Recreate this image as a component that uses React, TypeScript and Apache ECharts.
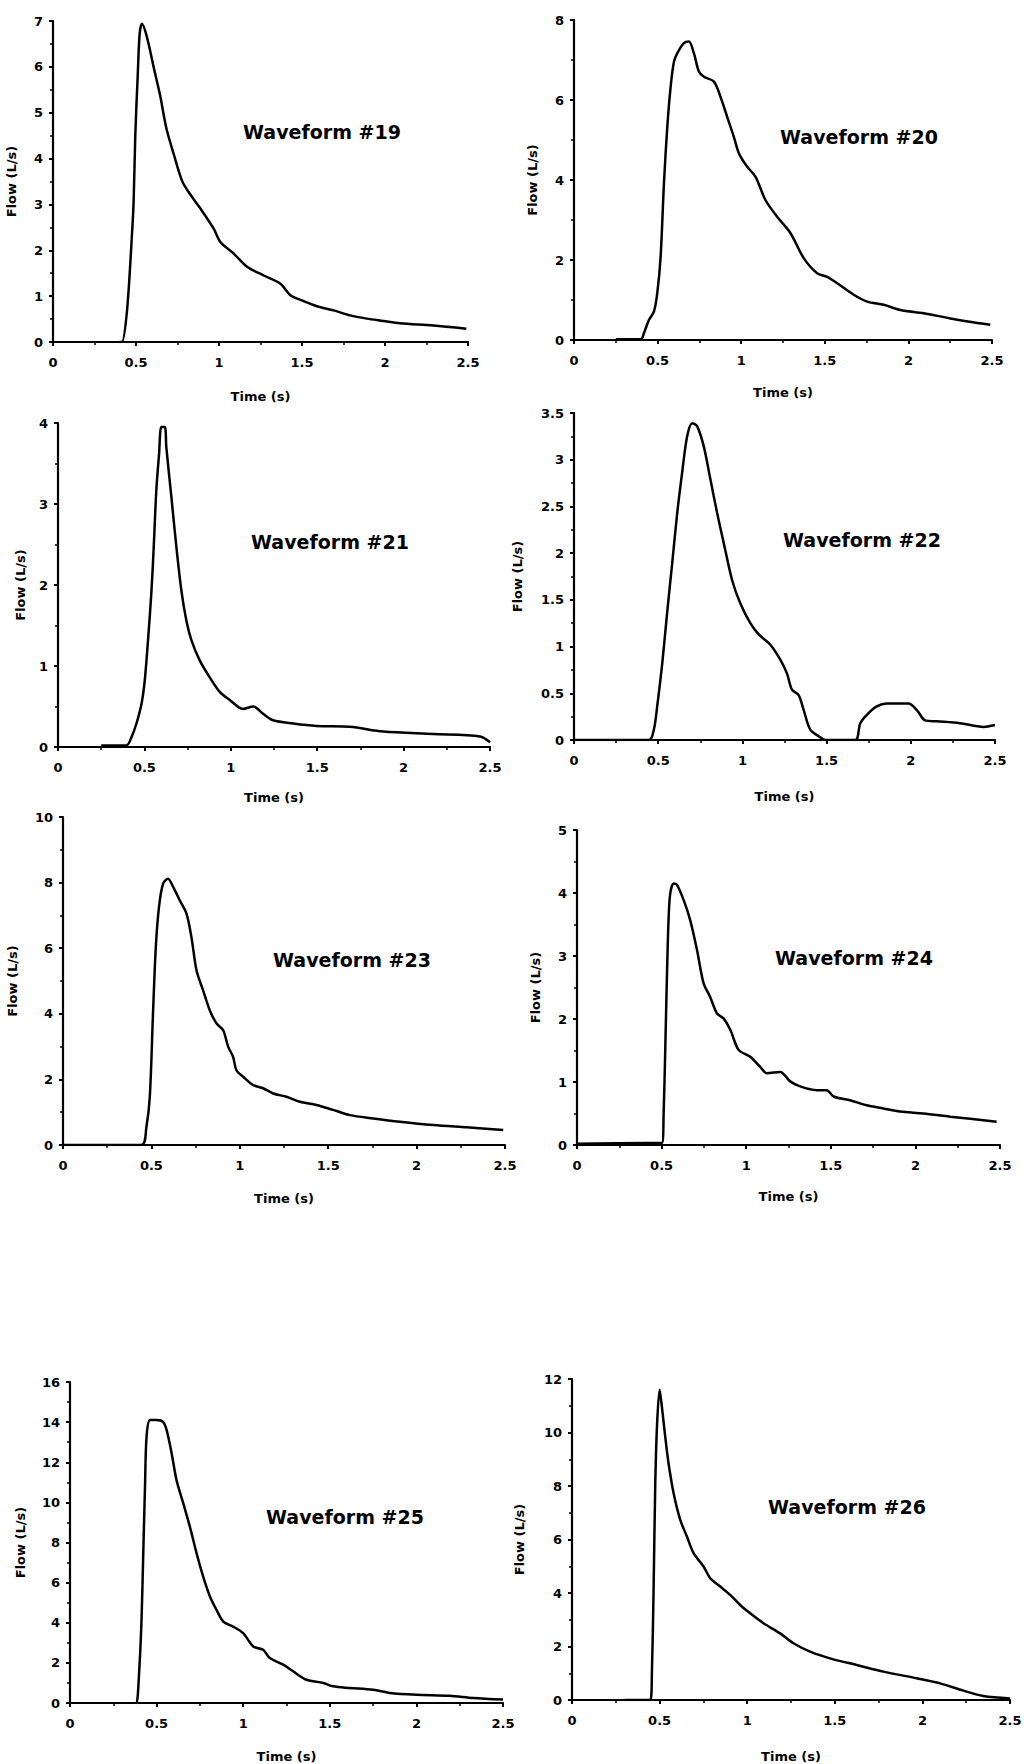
import React, { useEffect, useRef } from "react";
import * as echarts from "echarts";

// ---- Data (time in s, flow in L/s) ----
const titles = ["Waveform #19", "Waveform #20", "Waveform #21", "Waveform #22", "Waveform #23", "Waveform #24", "Waveform #25", "Waveform #26"];
const xTicks = [0, 0.5, 1, 1.5, 2, 2.5];
const yMax = [7, 8, 4, 3.5, 10, 5, 16, 12];
const yStep = [1, 2, 1, 0.5, 2, 1, 2, 2];

const w19T = [0.40, 0.415, 0.446, 0.476, 0.486, 0.496, 0.51, 0.522, 0.536, 0.566, 0.606, 0.647, 0.667, 0.687, 0.727, 0.777, 0.817, 0.888, 0.968, 1.008, 1.088, 1.169, 1.269, 1.37, 1.43, 1.49, 1.59, 1.69, 1.79, 1.89, 1.99, 2.09, 2.29, 2.49];
const w19F = [0, 0, 0.69, 2.36, 3.1, 4.54, 5.78, 6.72, 6.94, 6.65, 6.0, 5.35, 4.95, 4.6, 4.1, 3.52, 3.27, 2.91, 2.47, 2.18, 1.93, 1.64, 1.45, 1.27, 1.02, 0.92, 0.78, 0.69, 0.58, 0.51, 0.46, 0.41, 0.36, 0.29];

const w20T = [0.25, 0.4, 0.418, 0.448, 0.478, 0.498, 0.518, 0.538, 0.558, 0.578, 0.598, 0.618, 0.657, 0.687, 0.717, 0.747, 0.777, 0.837, 0.876, 0.916, 0.956, 0.986, 1.036, 1.086, 1.145, 1.215, 1.295, 1.375, 1.454, 1.514, 1.574, 1.673, 1.753, 1.853, 1.952, 2.092, 2.25, 2.49];
const w20F = [0.02, 0.02, 0.17, 0.5, 0.71, 1.17, 2.08, 3.92, 5.33, 6.33, 6.96, 7.17, 7.42, 7.46, 7.17, 6.71, 6.58, 6.46, 6.08, 5.58, 5.08, 4.67, 4.33, 4.08, 3.5, 3.08, 2.67, 2.04, 1.67, 1.58, 1.42, 1.13, 0.96, 0.88, 0.75, 0.67, 0.54, 0.38];

const w21T = [0.25, 0.396, 0.425, 0.454, 0.483, 0.502, 0.521, 0.541, 0.554, 0.569, 0.585, 0.598, 0.618, 0.627, 0.656, 0.685, 0.714, 0.743, 0.772, 0.82, 0.878, 0.936, 0.994, 1.07, 1.129, 1.187, 1.245, 1.361, 1.496, 1.689, 1.882, 2.172, 2.442, 2.5];
const w21F = [0.02, 0.02, 0.12, 0.29, 0.53, 0.82, 1.32, 1.93, 2.47, 3.17, 3.62, 3.95, 3.95, 3.7, 3.09, 2.47, 1.93, 1.56, 1.32, 1.07, 0.86, 0.68, 0.58, 0.47, 0.5, 0.41, 0.33, 0.29, 0.26, 0.25, 0.19, 0.16, 0.13, 0.06];

const w22T = [0, 0.445, 0.474, 0.494, 0.524, 0.553, 0.583, 0.613, 0.642, 0.672, 0.702, 0.731, 0.771, 0.81, 0.85, 0.889, 0.939, 0.988, 1.047, 1.097, 1.166, 1.225, 1.265, 1.294, 1.334, 1.364, 1.403, 1.453, 1.492, 1.67, 1.7, 1.739, 1.798, 1.858, 1.986, 2.036, 2.085, 2.154, 2.292, 2.431, 2.5];
const w22F = [0, 0, 0.11, 0.36, 0.82, 1.36, 1.89, 2.43, 2.86, 3.25, 3.39, 3.36, 3.14, 2.79, 2.43, 2.11, 1.71, 1.46, 1.25, 1.13, 1.02, 0.86, 0.71, 0.54, 0.48, 0.32, 0.11, 0.04, 0, 0, 0.18, 0.27, 0.36, 0.39, 0.39, 0.32, 0.21, 0.2, 0.18, 0.14, 0.16];

const w23T = [0, 0.443, 0.472, 0.491, 0.509, 0.525, 0.543, 0.566, 0.594, 0.623, 0.66, 0.698, 0.726, 0.755, 0.792, 0.83, 0.868, 0.906, 0.934, 0.962, 0.981, 1.019, 1.075, 1.132, 1.189, 1.264, 1.34, 1.434, 1.528, 1.623, 1.755, 1.906, 2.094, 2.283, 2.49];
const w23F = [0, 0, 0.56, 1.47, 4.0, 6.04, 7.26, 7.97, 8.12, 7.87, 7.46, 7.06, 6.35, 5.33, 4.72, 4.11, 3.71, 3.5, 3.0, 2.69, 2.28, 2.08, 1.83, 1.73, 1.57, 1.47, 1.32, 1.22, 1.07, 0.91, 0.81, 0.71, 0.61, 0.54, 0.46];

const w24T = [0, 0.42, 0.502, 0.512, 0.522, 0.531, 0.541, 0.551, 0.571, 0.591, 0.63, 0.669, 0.709, 0.748, 0.787, 0.827, 0.866, 0.906, 0.955, 1.024, 1.083, 1.122, 1.201, 1.26, 1.319, 1.417, 1.476, 1.516, 1.614, 1.713, 1.811, 1.909, 2.047, 2.205, 2.48];
const w24F = [0.02, 0.03, 0.03, 0.5, 1.56, 2.62, 3.57, 3.99, 4.15, 4.13, 3.89, 3.57, 3.1, 2.57, 2.35, 2.09, 2.01, 1.83, 1.51, 1.4, 1.24, 1.14, 1.16, 1.01, 0.93, 0.87, 0.87, 0.77, 0.71, 0.63, 0.58, 0.53, 0.5, 0.45, 0.37];

const w25T = [0.38, 0.385, 0.4, 0.413, 0.423, 0.433, 0.442, 0.462, 0.5, 0.538, 0.558, 0.587, 0.615, 0.654, 0.692, 0.731, 0.769, 0.808, 0.846, 0.885, 0.942, 1.0, 1.058, 1.115, 1.154, 1.231, 1.288, 1.365, 1.462, 1.519, 1.615, 1.75, 1.846, 2.0, 2.192, 2.327, 2.5];
const w25F = [0, 0, 1.66, 4.15, 7.46, 10.78, 13.27, 14.1, 14.1, 14.0, 13.6, 12.44, 11.11, 9.95, 8.79, 7.46, 6.3, 5.31, 4.64, 4.06, 3.81, 3.48, 2.82, 2.65, 2.24, 1.91, 1.58, 1.16, 1.0, 0.83, 0.75, 0.66, 0.5, 0.41, 0.36, 0.25, 0.17];

const w26T = [0.3, 0.447, 0.456, 0.466, 0.475, 0.485, 0.5, 0.513, 0.532, 0.551, 0.58, 0.618, 0.656, 0.694, 0.751, 0.789, 0.846, 0.903, 0.96, 1.017, 1.093, 1.188, 1.264, 1.359, 1.492, 1.625, 1.778, 1.968, 2.101, 2.234, 2.348, 2.5];
const w26F = [0, 0, 1.0, 4.24, 7.98, 10.22, 11.6, 10.97, 9.85, 8.85, 7.73, 6.73, 6.11, 5.49, 4.99, 4.55, 4.24, 3.93, 3.55, 3.24, 2.87, 2.49, 2.12, 1.81, 1.52, 1.31, 1.06, 0.81, 0.62, 0.35, 0.15, 0.06];

const seriesT = [w19T, w20T, w21T, w22T, w23T, w24T, w25T, w26T];
const seriesF = [w19F, w20F, w21F, w22F, w23F, w24F, w25F, w26F];

// ---- Layout (pixels) ----
const grids = [
  { left: 53, top: 21, width: 415, height: 321 },
  { left: 574, top: 20, width: 418, height: 320 },
  { left: 58, top: 423, width: 432, height: 324 },
  { left: 574, top: 413, width: 421, height: 327 },
  { left: 63, top: 817, width: 442, height: 328 },
  { left: 577, top: 830, width: 423, height: 315 },
  { left: 70, top: 1382, width: 433, height: 321 },
  { left: 572, top: 1379, width: 438, height: 321 },
];
const yNameGap = [35, 35, 31, 50, 44, 35, 43, 46];
const xNameGap = [48, 46, 44, 50, 47, 45, 47, 50];
const titlePos = [
  [322, 132], [859, 137], [330, 542], [862, 540], [352, 960], [854, 958], [345, 1517], [847, 1507],
];

const FONT = "'DejaVu Sans', 'Liberation Sans', Arial, sans-serif";

export default function App() {
  const ref = useRef<HTMLDivElement>(null);
  useEffect(() => {
    document.body.style.margin = "0";
    if (!ref.current) return;
    const chart = echarts.init(ref.current, undefined, { renderer: "svg" });
    const axisCommon = {
      axisLine: { show: true, lineStyle: { color: "#000", width: 2.2 } },
      axisTick: { show: true, length: 4, lineStyle: { color: "#000", width: 2 } },
      minorTick: { show: true, splitNumber: 2, length: 3, lineStyle: { color: "#000", width: 1.5 } },
      splitLine: { show: false },
      axisLabel: { color: "#000", fontFamily: FONT, fontWeight: "bold", fontSize: 13 },
      nameTextStyle: { color: "#000", fontFamily: FONT, fontWeight: "bold", fontSize: 13 },
    };
    const option: any = {
      animation: false,
      backgroundColor: "#fff",
      grid: grids.map((g) => ({ ...g, containLabel: false, outerBoundsMode: "none" })),
      xAxis: grids.map((_, i) => ({
        ...axisCommon,
        type: "value",
        gridIndex: i,
        min: xTicks[0],
        max: xTicks[xTicks.length - 1],
        interval: 0.5,
        name: "Time (s)",
        nameLocation: "middle",
        nameGap: xNameGap[i],
        axisLabel: { ...axisCommon.axisLabel, margin: 14, showMaxLabel: true, showMinLabel: true },
      })),
      yAxis: grids.map((_, i) => ({
        ...axisCommon,
        type: "value",
        gridIndex: i,
        min: 0,
        max: yMax[i],
        interval: yStep[i],
        name: "Flow (L/s)",
        nameLocation: "middle",
        nameGap: yNameGap[i],
        nameRotate: 90,
        axisLabel: { ...axisCommon.axisLabel, margin: 10 },
      })),
      series: seriesT.map((ts, i) => ({
        type: "line",
        xAxisIndex: i,
        yAxisIndex: i,
        showSymbol: false,
        symbol: "none",
        smooth: 0.3,
        lineStyle: { color: "#000", width: 2.5 },
        data: ts.map((t, k) => [t, seriesF[i][k]]),
        z: 3,
      })),
      graphic: titles.map((t, i) => ({
        type: "text",
        x: titlePos[i][0],
        y: titlePos[i][1],
        style: {
          text: t,
          fill: "#000",
          font: `bold 19px ${FONT}`,
          textAlign: "center",
          textVerticalAlign: "middle",
        },
      })),
    };
    chart.setOption(option);
    return () => chart.dispose();
  }, []);
  return <div ref={ref} style={{ width: 1034, height: 1764 }} />;
}
